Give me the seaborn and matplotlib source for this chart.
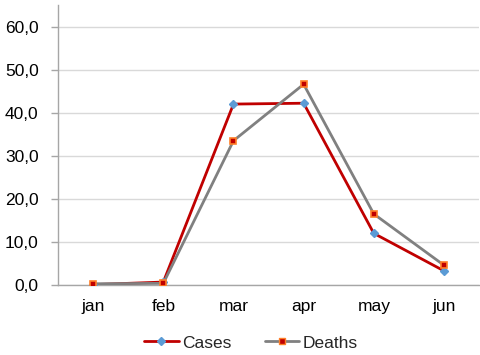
import matplotlib
matplotlib.use("Agg")
import matplotlib.pyplot as plt
import seaborn as sns
import pandas as pd
import numpy as np
from matplotlib.ticker import FixedLocator, FuncFormatter
from matplotlib.lines import Line2D

months = ["jan", "feb", "mar", "apr", "may", "jun"]
cases = [0.1, 0.7, 42.0, 42.2, 12.0, 3.3]
deaths = [0.3, 0.4, 33.5, 46.6, 16.5, 4.6]
yticks = [0, 10, 20, 30, 40, 50, 60]

df = pd.DataFrame({
    "month": months * 2,
    "value": cases + deaths,
    "series": ["Cases"] * len(months) + ["Deaths"] * len(months),
})

sns.set_style("white")
plt.rcParams["font.family"] = ["Liberation Sans", "DejaVu Sans"]

fig = plt.figure(figsize=(4.8, 3.55), dpi=100)
ax = fig.add_axes([0.121, 0.197, 0.877, 0.789])

red = "#C00000"
gray = "#808080"
sns.lineplot(data=df, x="month", y="value", hue="series",
             palette={"Cases": red, "Deaths": gray}, linewidth=2,
             sort=False, ax=ax, legend=False, zorder=3)
cx = np.arange(len(months))
ax.plot(cx, cases, linestyle="none", marker="D", markersize=4,
        color="#5B9BD5", zorder=4)
ax.plot(cx, deaths, linestyle="none", marker="s", markersize=5,
        markerfacecolor=red, markeredgecolor="#FF7F27", markeredgewidth=1.2, zorder=5)

ax.set_xlim(-0.5, len(months) - 0.5)
ax.set_ylim(0, 65)
ax.set_yticks(yticks)
ax.yaxis.set_major_formatter(FuncFormatter(lambda v, p: f"{v:.1f}".replace(".", ",")))
ax.grid(axis="y", color="#D9D9D9", linewidth=1)
ax.set_axisbelow(True)
ax.set_xlabel("")
ax.set_ylabel("")

ax.xaxis.set_minor_locator(FixedLocator(np.arange(-0.5, len(months), 1.0)))
ax.tick_params(axis="x", which="major", length=0, pad=10, labelsize=12.5, colors="#000000")
ax.tick_params(axis="x", which="minor", length=4, color="#A6A6A6", width=1)
ax.tick_params(axis="y", which="major", length=5, color="#A6A6A6", width=1,
               labelsize=12.5, pad=9, left=True, labelcolor="#000000")

for s in ["top", "right"]:
    ax.spines[s].set_visible(False)
ax.spines["left"].set_color("#A6A6A6")
ax.spines["bottom"].set_color("#A6A6A6")
ax.spines["left"].set_linewidth(1)
ax.spines["bottom"].set_linewidth(1)

handles = [
    Line2D([0], [0], color=red, linewidth=2, marker="D", markersize=4,
           markerfacecolor="#5B9BD5", markeredgecolor="#5B9BD5"),
    Line2D([0], [0], color=gray, linewidth=2, marker="s", markersize=5,
           markerfacecolor=red, markeredgecolor="#FF7F27"),
]
fig.legend(handles, ["Cases", "Deaths"], loc="center", bbox_to_anchor=(0.523, 0.034),
           ncol=2, frameon=False, fontsize=12.5, handlelength=2.0,
           handletextpad=0.2, columnspacing=1.9)

fig.savefig("out.png", dpi=100)
